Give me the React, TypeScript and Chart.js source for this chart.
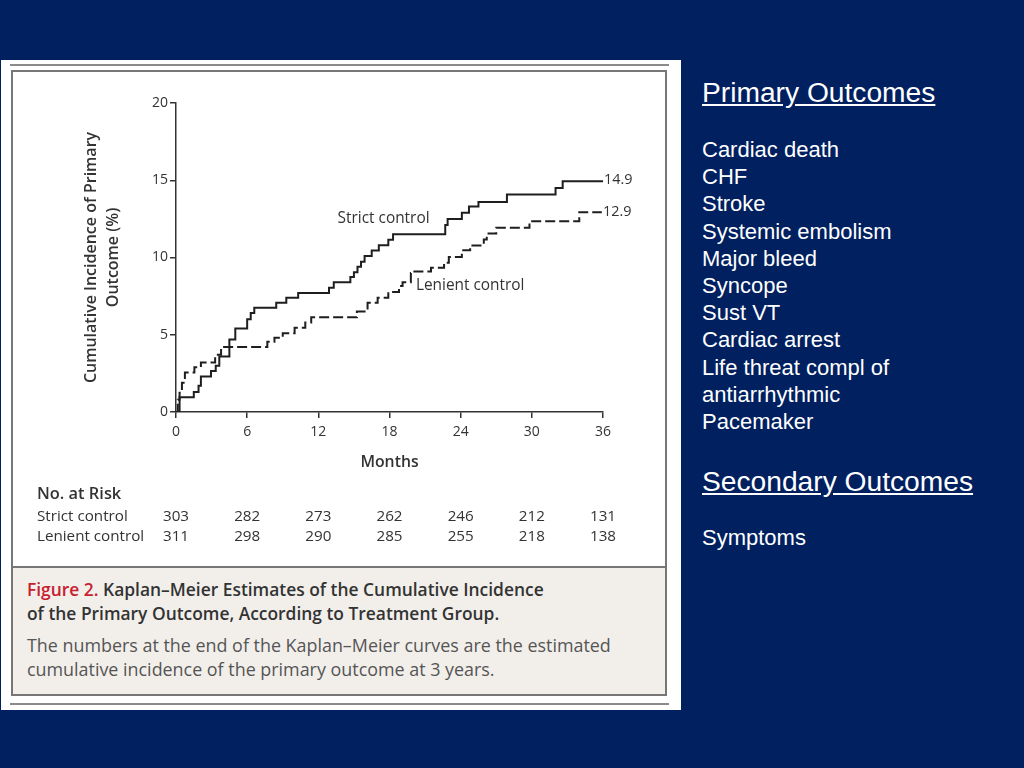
import React, { useEffect, useRef } from 'react';
import { Chart, registerables } from 'chart.js';

Chart.register(...registerables);

// ---- Data ----
const strictMonths = [0, 0.3, 1.5, 1.9, 2.1, 2.95, 3.35, 3.65, 4.5, 5.0, 6.0, 6.3, 6.6, 8.45, 9.3, 10.3, 12.9, 13.3, 14.7, 15.0, 15.3, 15.6, 15.9, 16.5, 17.1, 17.9, 18.3, 22.7, 22.9, 24.1, 24.7, 25.5, 27.9, 32.0, 32.6, 36];
const strictValues = [0, 0.95, 1.3, 1.7, 2.3, 2.65, 3.0, 3.6, 4.7, 5.4, 6.0, 6.4, 6.75, 7.07, 7.4, 7.7, 8.04, 8.4, 8.73, 9.05, 9.4, 9.72, 10.1, 10.45, 10.8, 11.15, 11.5, 12.1, 12.5, 12.9, 13.3, 13.6, 14.07, 14.5, 14.93, 14.93];

const lenientMonths = [0, 0.15, 0.3, 0.5, 0.75, 1.55, 2.1, 3.3, 3.8, 7.7, 8.3, 9.0, 10.0, 10.9, 11.4, 15.25, 16.15, 17.0, 17.9, 18.8, 19.1, 19.8, 20.1, 21.5, 22.6, 23.0, 24.1, 24.8, 25.95, 26.2, 27.0, 29.8, 34.0, 35.9];
const lenientValues = [0, 0.8, 1.25, 1.9, 2.55, 2.9, 3.2, 3.7, 4.2, 4.55, 4.8, 5.1, 5.45, 5.8, 6.14, 6.5, 7.07, 7.4, 7.76, 8.15, 8.4, 9.0, 9.1, 9.33, 9.66, 10.04, 10.47, 10.78, 11.16, 11.55, 11.92, 12.35, 12.93, 12.93];

const seriesNames = ['Strict control', 'Lenient control'];
const endLabels = ['14.9', '12.9'];
const xTicks = [0, 6, 12, 18, 24, 30, 36];
const yTicks = [0, 5, 10, 15, 20];

const riskMonths = [0, 6, 12, 18, 24, 30, 36];
const strictAtRisk = [303, 282, 273, 262, 246, 212, 131];
const lenientAtRisk = [311, 298, 290, 285, 255, 218, 138];

const primaryOutcomes = ['Cardiac death', 'CHF', 'Stroke', 'Systemic embolism', 'Major bleed', 'Syncope', 'Sust VT', 'Cardiac arrest', 'Life threat compl of', 'antiarrhythmic', 'Pacemaker'];
const secondaryOutcomes = ['Symptoms'];

const FIG_FONT = '"Open Sans", Lato, sans-serif';
const INK = '#333333';

const annotatePlugin = {
  id: 'kmAnnotations',
  afterDraw(chart: any) {
    const { ctx } = chart;
    const x = chart.scales.x;
    const y = chart.scales.y;
    ctx.save();
    ctx.fillStyle = INK;
    ctx.textBaseline = 'middle';
    // curve labels
    ctx.font = `15.4px ${FIG_FONT}`;
    ctx.textAlign = 'center';
    ctx.fillText(seriesNames[0], x.getPixelForValue(17.5), y.getPixelForValue(12.5));
    ctx.fillText(seriesNames[1], x.getPixelForValue(24.8), y.getPixelForValue(8.2));
    ctx.font = `14.4px ${FIG_FONT}`;
    ctx.textAlign = 'left';
    ctx.fillText(endLabels[0], x.getPixelForValue(36) + 1, y.getPixelForValue(15.05));
    ctx.fillText(endLabels[1], x.getPixelForValue(36) + 0, y.getPixelForValue(12.97));

    // number at risk table
    ctx.font = `600 16.4px ${FIG_FONT}`;
    ctx.fillText('No. at Risk', 24, 422);
    ctx.font = `15.2px ${FIG_FONT}`;
    ctx.fillText(seriesNames[0], 24, 445);
    ctx.fillText(seriesNames[1], 24, 465);
    ctx.textAlign = 'center';
    riskMonths.forEach((m, i) => {
      const px = x.getPixelForValue(m);
      ctx.fillText(String(strictAtRisk[i]), px, 445);
      ctx.fillText(String(lenientAtRisk[i]), px, 465);
    });
    ctx.restore();
  },
};

function KMChart() {
  const ref = useRef<HTMLCanvasElement | null>(null);
  useEffect(() => {
    if (!ref.current) return;
    const chart = new Chart(ref.current, {
      type: 'line',
      data: {
        datasets: [
          {
            label: seriesNames[0],
            data: strictMonths.map((m, i) => ({ x: m, y: strictValues[i] })),
            stepped: true,
            borderColor: '#1e1e1e',
            borderWidth: 2,
            pointRadius: 0,
            fill: false,
          },
          {
            label: seriesNames[1],
            data: lenientMonths.map((m, i) => ({ x: m, y: lenientValues[i] })),
            stepped: true,
            borderColor: '#1e1e1e',
            borderWidth: 2,
            borderDash: [10, 4],
            pointRadius: 0,
            fill: false,
          },
        ],
      },
      options: {
        animation: false,
        responsive: false,
        maintainAspectRatio: false,
        layout: { padding: { left: 0, right: 62, top: 31, bottom: 93 } },
        plugins: { legend: { display: false }, tooltip: { enabled: false } },
        scales: {
          x: {
            type: 'linear',
            min: 0,
            max: 36,
            afterBuildTicks: (s: any) => {
              s.ticks = xTicks.map((v) => ({ value: v }));
            },
            afterFit: (s: any) => {
              s.height = 60;
            },
            border: { display: true, color: INK, width: 1.5 },
            grid: { display: true, drawOnChartArea: false, drawTicks: true, tickLength: 6, color: INK, lineWidth: 1.5 },
            ticks: { color: INK, font: { family: FIG_FONT, size: 14 }, padding: 6, maxRotation: 0, autoSkip: false },
            title: {
              display: true,
              text: 'Months',
              color: INK,
              font: { family: FIG_FONT, size: 15.8, weight: '600' },
              padding: { top: 0, bottom: 0 },
            },
          },
          y: {
            type: 'linear',
            min: 0,
            max: 20,
            afterBuildTicks: (s: any) => {
              s.ticks = yTicks.map((v) => ({ value: v }));
            },
            afterFit: (s: any) => {
              s.width = 163;
            },
            border: { display: true, color: INK, width: 1.5 },
            grid: { display: true, drawOnChartArea: false, drawTicks: true, tickLength: 6, color: INK, lineWidth: 1.5 },
            ticks: { color: INK, font: { family: FIG_FONT, size: 14 }, padding: 2 },
            title: {
              display: true,
              text: ['Cumulative Incidence of Primary', 'Outcome (%)'],
              color: INK,
              font: { family: FIG_FONT, size: 16, weight: '600', lineHeight: 1.36 },
              padding: { top: 68, bottom: 0 },
            },
          },
        },
      },
      plugins: [annotatePlugin],
    } as any);
    return () => chart.destroy();
  }, []);
  return <canvas ref={ref} width={652} height={493} style={{ position: 'absolute', left: 13, top: 72, width: 652, height: 493 }} />;
}

const abs = (o: React.CSSProperties): React.CSSProperties => ({ position: 'absolute', ...o });

export default function App() {
  const capFont = '"Open Sans", Lato, sans-serif';
  const slideFont = '"Liberation Sans", Arial, sans-serif';
  const capLine = (top: number, bold: boolean): React.CSSProperties =>
    abs({ left: 27, top, fontFamily: capFont, fontSize: bold ? 17.4 : 17.9, lineHeight: '20px', fontWeight: bold ? 600 : 400, color: bold ? '#333' : '#555', whiteSpace: 'nowrap' });
  return (
    <div style={{ position: 'fixed', left: 0, top: 0, width: 1024, height: 768, background: '#002060', overflow: 'hidden' }}>
      <div style={abs({ left: 1, top: 60, width: 680, height: 650, background: '#ffffff' })} />
      <div style={abs({ left: 10, top: 64, width: 659, height: 2, background: '#8a8a8a' })} />
      <div style={abs({ left: 11, top: 70, width: 656, height: 626, border: '2px solid #777', boxSizing: 'border-box' })} />
      <div style={abs({ left: 13, top: 566, width: 652, height: 128, background: '#f2efeb', borderTop: '2px solid #777', boxSizing: 'border-box' })} />
      <div style={abs({ left: 10, top: 703, width: 659, height: 2, background: '#8a8a8a' })} />
      <KMChart />
      <div style={capLine(579, true)}>
        <span style={{ color: '#c8202f' }}>Figure 2.</span> Kaplan–Meier Estimates of the Cumulative Incidence
      </div>
      <div style={capLine(603, true)}>of the Primary Outcome, According to Treatment Group.</div>
      <div style={capLine(635, false)}>The numbers at the end of the Kaplan–Meier curves are the estimated</div>
      <div style={capLine(659, false)}>cumulative incidence of the primary outcome at 3 years.</div>

      <div style={abs({ left: 702, top: 76, fontFamily: slideFont, fontSize: 28.2, lineHeight: '32px', color: '#fff', textDecoration: 'underline', whiteSpace: 'nowrap' })}>
        Primary Outcomes
      </div>
      <div style={abs({ left: 702, top: 136, fontFamily: slideFont, fontSize: 22, lineHeight: '27.2px', color: '#fff', whiteSpace: 'nowrap' })}>
        {primaryOutcomes.map((t) => (
          <div key={t}>{t}</div>
        ))}
      </div>
      <div style={abs({ left: 702, top: 465, fontFamily: slideFont, fontSize: 28.2, lineHeight: '32px', color: '#fff', textDecoration: 'underline', whiteSpace: 'nowrap' })}>
        Secondary Outcomes
      </div>
      <div style={abs({ left: 702, top: 524, fontFamily: slideFont, fontSize: 22, lineHeight: '27.2px', color: '#fff', whiteSpace: 'nowrap' })}>
        {secondaryOutcomes.map((t) => (
          <div key={t}>{t}</div>
        ))}
      </div>
    </div>
  );
}
